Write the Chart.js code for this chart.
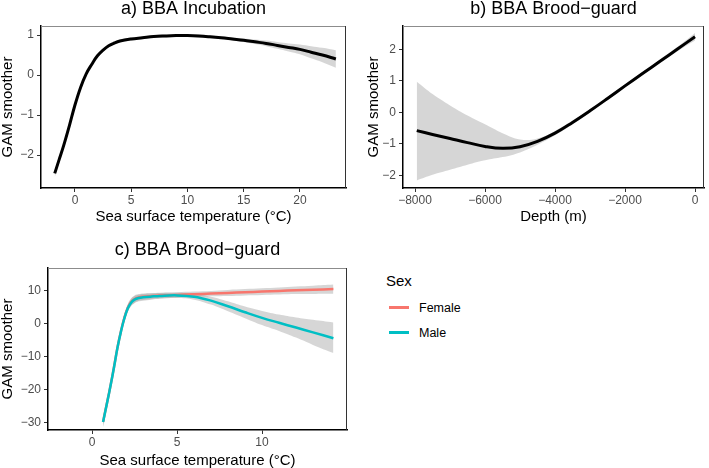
<!DOCTYPE html>
<html>
<head>
<meta charset="utf-8">
<script src="https://cdn.jsdelivr.net/npm/chart.js@4.4.1/dist/chart.umd.min.js"></script>
<style>
  html, body { margin: 0; padding: 0; background: #fff; overflow: hidden; }
  body { width: 709px; height: 468px; position: relative; font-family: "Liberation Sans", Arial, sans-serif; }
  .panel { position: absolute; }
  .legend-title { position: absolute; left: 386px; top: 272px; font-size: 15px; line-height: 18px; color: #000; }
  .legend-key { position: absolute; left: 389px; width: 20px; height: 3px; }
  .legend-label { position: absolute; left: 419px; font-size: 12.5px; line-height: 14px; color: #000; }
</style>
</head>
<body>
<div class="panel" style="left:0px;top:0px;width:354px;height:224px"><canvas id="chartA"></canvas></div>
<div class="panel" style="left:366px;top:0px;width:343px;height:224px"><canvas id="chartB"></canvas></div>
<div class="panel" style="left:0px;top:241px;width:354px;height:227px"><canvas id="chartC"></canvas></div>

<div class="legend-title">Sex</div>
<div class="legend-key" style="top:306px;background:#F8766D"></div>
<div class="legend-label" style="top:301px">Female</div>
<div class="legend-key" style="top:331px;background:#00BFC4"></div>
<div class="legend-label" style="top:326px">Male</div>

<script>
// a) incubation, SST
const xA = [-1.8, -1.4, -1, -0.5, 0, 0.5, 1, 1.5, 2, 2.5, 3, 3.5, 4, 5, 6, 7, 8, 9, 10, 11, 12, 13, 14, 15, 16, 17, 18, 19, 20, 21, 22, 23.2];
const yA = [-2.46, -2.11, -1.76, -1.27, -0.75, -0.31, 0.03, 0.27, 0.48, 0.62, 0.73, 0.8, 0.85, 0.9, 0.93, 0.96, 0.975, 0.985, 0.985, 0.975, 0.955, 0.93, 0.9, 0.87, 0.83, 0.79, 0.74, 0.69, 0.64, 0.57, 0.5, 0.4];
const hiA = [-2.36, -2.03, -1.7, -1.22, -0.71, -0.275, 0.065, 0.305, 0.515, 0.655, 0.765, 0.835, 0.885, 0.935, 0.965, 0.995, 1.01, 1.02, 1.02, 1.01, 0.99, 0.965, 0.935, 0.915, 0.885, 0.86, 0.825, 0.79, 0.76, 0.72, 0.68, 0.62];
const loA = [-2.56, -2.19, -1.82, -1.32, -0.79, -0.345, -0.005, 0.235, 0.445, 0.585, 0.695, 0.765, 0.815, 0.865, 0.895, 0.925, 0.94, 0.95, 0.95, 0.94, 0.92, 0.895, 0.865, 0.825, 0.775, 0.72, 0.655, 0.59, 0.52, 0.42, 0.32, 0.18];
const xTicksA = [0, 5, 10, 15, 20];
const yTicksA = [-2, -1, 0, 1];

// b) brood-guard, depth
const xB = [-7950, -7500, -7000, -6500, -6000, -5500, -5000, -4500, -4000, -3500, -3000, -2500, -2000, -1500, -1000, -500, 0];
const yB = [-0.58, -0.7, -0.83, -0.96, -1.08, -1.14, -1.09, -0.92, -0.66, -0.32, 0.05, 0.44, 0.84, 1.23, 1.62, 2.01, 2.4];
const hiB = [0.97, 0.58, 0.22, -0.1, -0.38, -0.66, -0.86, -0.83, -0.59, -0.26, 0.1, 0.49, 0.89, 1.28, 1.68, 2.08, 2.52];
const loB = [-2.16, -1.98, -1.82, -1.66, -1.52, -1.42, -1.27, -1.03, -0.73, -0.38, 0.0, 0.39, 0.79, 1.18, 1.56, 1.94, 2.28];
const xTicksB = [-8000, -6000, -4000, -2000, 0];
const yTicksB = [-2, -1, 0, 1, 2];

// c) brood-guard, SST by sex
const xC = [0.65, 0.9, 1.1, 1.3, 1.5, 1.7, 1.9, 2.1, 2.3, 2.5, 2.75, 3, 3.5, 4, 5, 6, 7, 8, 9, 10, 11, 12, 13, 14.2];
const femaleC = [-29.7, -23.5, -18.4, -12.9, -7.1, -2.3, 1.8, 4.8, 6.6, 7.5, 8.0, 8.2, 8.4, 8.55, 8.75, 8.95, 9.15, 9.35, 9.55, 9.75, 9.95, 10.15, 10.3, 10.5];
const femaleHi = [-28.2, -22.1, -17.1, -11.7, -6.0, -1.2, 2.9, 5.9, 7.7, 8.6, 9.0, 9.2, 9.3, 9.4, 9.55, 9.75, 9.95, 10.25, 10.5, 10.75, 11.0, 11.3, 11.55, 11.9];
const femaleLo = [-31.2, -24.9, -19.7, -14.1, -8.2, -3.4, 0.7, 3.7, 5.5, 6.4, 7.0, 7.2, 7.5, 7.7, 7.95, 8.15, 8.35, 8.45, 8.6, 8.75, 8.9, 9.0, 9.05, 9.1];
const maleC = [-29.8, -23.6, -18.5, -13.0, -7.2, -2.4, 1.6, 4.6, 6.4, 7.3, 7.8, 8.0, 8.25, 8.45, 8.6, 8.2, 7.0, 5.3, 3.5, 1.8, 0.3, -1.15, -2.6, -4.4];
const maleHi = [-28.3, -22.2, -17.2, -11.8, -6.1, -1.3, 2.7, 5.7, 7.5, 8.4, 8.8, 9.0, 9.2, 9.35, 9.4, 9.1, 8.2, 6.8, 5.2, 3.9, 2.8, 1.9, 1.2, 0.4];
const maleLo = [-31.3, -25.0, -19.8, -14.2, -8.3, -3.5, 0.5, 3.5, 5.3, 6.2, 6.8, 7.0, 7.3, 7.55, 7.8, 7.3, 5.8, 3.8, 1.7, -0.4, -2.2, -4.2, -6.4, -8.9];
const xTicksC = [0, 5, 10];
const yTicksC = [-30, -20, -10, 0, 10];

const BAND = "rgba(153,153,153,0.4)";
const FEMALE = "#F8766D";
const MALE = "#00BFC4";

Chart.defaults.font.family = '"Liberation Sans", Arial, sans-serif';
Chart.defaults.color = "#4D4D4D";

function pts(xs, ys) {
  return xs.map((x, i) => ({ x: x, y: ys[i] }));
}

function fmt(v) {
  return String(v).replace("-", "\u2212");
}

function lineSet(xs, ys, color, width) {
  return {
    data: pts(xs, ys),
    borderColor: color,
    borderWidth: width,
    pointRadius: 0,
    fill: false,
    tension: 0.4,
    order: 0,
  };
}

// lower edge, then upper edge filled down to it
function bandSets(xs, lo, hi) {
  return [
    { data: pts(xs, lo), borderColor: "transparent", borderWidth: 0, pointRadius: 0, fill: false, tension: 0.4, order: 1 },
    { data: pts(xs, hi), borderColor: "transparent", borderWidth: 0, pointRadius: 0, fill: "-1", backgroundColor: BAND, tension: 0.4, order: 1 },
  ];
}

const panelBox = {
  id: "panelBox",
  afterDatasetsDraw(chart) {
    const { ctx, chartArea: a } = chart;
    ctx.save();
    ctx.lineWidth = 1;
    ctx.strokeStyle = "#8c8c8c";
    ctx.beginPath();
    ctx.moveTo(a.left, a.top + 0.5);
    ctx.lineTo(a.right, a.top + 0.5);
    ctx.stroke();
    ctx.strokeStyle = "#333";
    ctx.beginPath();
    ctx.moveTo(a.right - 0.5, a.top);
    ctx.lineTo(a.right - 0.5, a.bottom);
    ctx.stroke();
    ctx.restore();
  },
};

function axis(min, max, ticks, title, size, horizontal) {
  return {
    type: "linear",
    min: min,
    max: max,
    afterBuildTicks: (s) => { s.ticks = ticks.map((v) => ({ value: v })); },
    afterFit: (s) => { if (horizontal) s.height = size; else s.width = size; },
    grid: { drawOnChartArea: false, drawTicks: true, tickLength: 4, color: "#333" },
    border: { display: true, color: "#000", width: 1.5 },
    ticks: {
      autoSkip: false,
      maxRotation: 0,
      padding: horizontal ? 1 : 3,
      color: "#4D4D4D",
      font: { size: 12 },
      callback: (v) => fmt(v),
    },
    title: { display: true, text: title, color: "#000", font: { size: 15, lineHeight: 1 }, padding: 0 },
  };
}

function makeChart(id, title, datasets, xScale, yScale, padRight, titlePad) {
  new Chart(document.getElementById(id), {
    type: "line",
    data: { datasets: datasets },
    options: {
      responsive: true,
      maintainAspectRatio: false,
      animation: false,
      events: [],
      layout: { padding: { left: 0, right: padRight, top: 0, bottom: 0 } },
      scales: { x: xScale, y: yScale },
      plugins: {
        legend: { display: false },
        tooltip: { enabled: false },
        title: {
          display: true,
          text: title,
          fullSize: false,
          color: "#000",
          font: { size: 18, weight: "normal", lineHeight: 1 },
          padding: { top: 0, bottom: titlePad },
        },
      },
    },
    plugins: [panelBox],
  });
}

makeChart(
  "chartA",
  "a) BBA Incubation",
  [lineSet(xA, yA, "#000", 3), ...bandSets(xA, loA, hiA)],
  axis(-3.02, 24.1, xTicksA, "Sea surface temperature (\u00B0C)", 36, true),
  axis(-2.825, 1.225, yTicksA, "GAM smoother", 41, false),
  8, 8
);

makeChart(
  "chartB",
  "b) BBA Brood\u2212guard",
  [lineSet(xB, yB, "#000", 3), ...bandSets(xB, loB, hiB)],
  axis(-8343, 257, xTicksB, "Depth (m)", 36, true),
  axis(-2.4, 2.74, yTicksB, "GAM smoother", 37, false),
  5, 8
);

makeChart(
  "chartC",
  "c) BBA Brood\u2212guard",
  [
    lineSet(xC, maleC, MALE, 2.5),
    lineSet(xC, femaleC, FEMALE, 2.5),
    ...bandSets(xC, femaleLo, femaleHi),
    ...bandSets(xC, maleLo, maleHi),
  ],
  axis(-2.59, 15.0, xTicksC, "Sea surface temperature (\u00B0C)", 38, true),
  axis(-32.2, 16.9, yTicksC, "GAM smoother", 48, false),
  7, 9
);
</script>
</body>
</html>
